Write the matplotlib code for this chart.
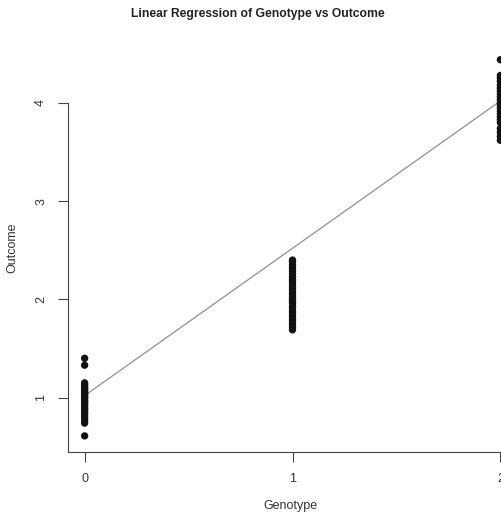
import matplotlib
matplotlib.use("Agg")
import matplotlib.pyplot as plt
import numpy as np

plt.rcParams['font.family'] = ['Liberation Sans', 'DejaVu Sans']

genotype_ticks = [0, 1, 2]
outcome_ticks = [1, 2, 3, 4]

outcome_g0 = [0.61, 0.74, 0.77, 0.80, 0.83, 0.85, 0.87, 0.89, 0.91, 0.93, 0.95, 0.96,
              0.98, 1.00, 1.01, 1.03, 1.04, 1.06, 1.08, 1.09, 1.11, 1.13, 1.15, 1.33, 1.40]
outcome_g1 = [1.69, 1.72, 1.75, 1.78, 1.80, 1.83, 1.86, 1.88, 1.91, 1.93, 1.96, 1.98,
              2.00, 2.02, 2.05, 2.07, 2.10, 2.12, 2.15, 2.18, 2.20, 2.23, 2.26, 2.29,
              2.32, 2.35, 2.38, 2.40]
outcome_g2 = [3.62, 3.66, 3.70, 3.74, 3.80, 3.83, 3.86, 3.89, 3.92, 3.95, 3.98, 4.00,
              4.03, 4.06, 4.09, 4.12, 4.15, 4.18, 4.22, 4.25, 4.28, 4.44]

fit_intercept = 1.02
fit_slope = 1.50

x_all = [0] * len(outcome_g0) + [1] * len(outcome_g1) + [2] * len(outcome_g2)
y_all = outcome_g0 + outcome_g1 + outcome_g2

fig = plt.figure(figsize=(5.01, 5.19), dpi=100)
ax = fig.add_axes([68/501, 1 - 452/519, (517 - 68)/501, (452 - 44)/519])

ax.scatter(x_all, y_all, s=28, color='#111111', edgecolors='none', zorder=3)
xs = np.array([0, 2])
ax.plot(xs, fit_intercept + fit_slope * xs, color='#909090', lw=0.9, zorder=2)

ax.set_xlim(-0.08, 2.08)
ax.set_ylim(0.446, 4.60)
ax.set_xticks(genotype_ticks)
ax.set_yticks(outcome_ticks)
ax.set_xticklabels([str(t) for t in genotype_ticks])
ax.set_yticklabels([str(t) for t in outcome_ticks], rotation=90, va='center')
ax.tick_params(axis='both', direction='out', length=7, width=0.8, colors='#444444',
               labelsize=9, labelcolor='#333333', pad=8)
for s in ['top', 'right']:
    ax.spines[s].set_visible(False)
for s in ['left', 'bottom']:
    ax.spines[s].set_color('#444444')
    ax.spines[s].set_linewidth(0.8)
ax.spines['left'].set_bounds(0.446, outcome_ticks[-1])

fig.text(12/501, 1 - 248/519, 'Outcome', rotation=90, ha='center', va='center',
         fontsize=9, color='#333333')
fig.text(290/501, 1 - 506/519, 'Genotype', ha='center', va='center',
         fontsize=9, color='#333333')
fig.text(258/501, 1 - 14/519, 'Linear Regression of Genotype vs Outcome', ha='center',
         va='center', fontsize=8.7, fontweight='bold', color='#222222')

fig.savefig('out.png', dpi=100)
